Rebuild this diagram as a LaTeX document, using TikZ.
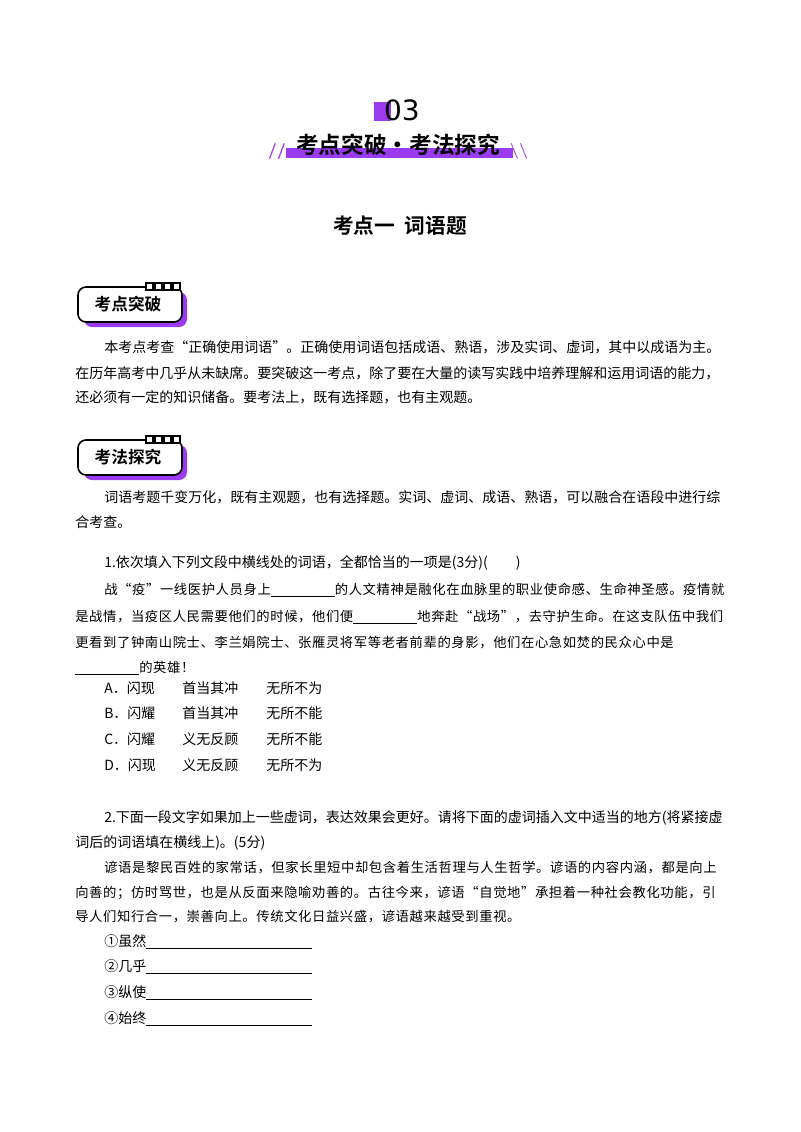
\documentclass[tikz,border=0pt]{standalone}
\usepackage{fontspec}
\setmainfont{Liberation Serif}
\newfontfamily\cjk{Noto Sans CJK SC}
\newfontfamily\cjks[LetterSpace=4.5]{Noto Sans CJK SC}
\newfontfamily\cjkb{Noto Sans CJK SC Bold}
\newfontfamily\numf{DejaVu Sans}
\definecolor{pur}{HTML}{9B3BF0}
\begin{document}
\begin{tikzpicture}[x=0.75pt,y=-0.75pt,
  txt/.style={anchor=west,inner sep=0pt,font=\cjk\fontsize{10.5}{12}\selectfont},
  pas/.style={anchor=west,inner sep=0pt,font=\cjks\fontsize{10}{12}\selectfont},
  badge/.style={draw=black,line width=1.2pt,fill=white,rounded corners=6pt}]
\useasboundingbox (0,0) rectangle (800,1132);
% header
\fill[pur] (374,102) rectangle (391,121);
\node[inner sep=0pt,font=\numf\fontsize{21}{24}\selectfont] (n03) at (402,110) {03};
\fill[pur] (286,148) rectangle (513,158);
\node[inner sep=0pt,font=\cjkb\fontsize{17}{18}\selectfont] (ban) at (398,145) {考点突破·考法探究};
\node[inner sep=0pt,text=pur,font=\sffamily\bfseries\fontsize{12}{12}\selectfont] (sl) at (277,151) {//};
\node[inner sep=0pt,text=pur,font=\sffamily\bfseries\fontsize{12}{12}\selectfont] (sr) at (519,151) {\textbackslash\textbackslash};
\node[inner sep=0pt,font=\cjkb\fontsize{15.5}{16}\selectfont] (tit) at (400,226) {考点一\ \ 词语题};
% badges
\foreach \yy/\lab in {287/考点突破,440/考法探究}{
  \fill[pur,rounded corners=6pt] (84,\yy+5) rectangle (187,\yy+40);
  \draw[badge] (78,\yy) rectangle (182,\yy+35);
  \draw[line width=1.3pt] (140,\yy) -- (180,\yy);
  \foreach \k in {0,1,2,3}{\draw[line width=1.3pt,fill=white] (146+\k*9,\yy-4) rectangle (153+\k*9,\yy+3);}
  \node[inner sep=0pt,font=\cjkb\fontsize{12.5}{13}\selectfont] at (128,\yy+17) {\lab};
}
% paragraph 1
\node[txt] (p1) at (104,347) {本考点考查“正确使用词语”。正确使用词语包括成语、熟语，涉及实词、虚词，其中以成语为主。};
\node[txt] (p2) at (75,373) {在历年高考中几乎从未缺席。要突破这一考点，除了要在大量的读写实践中培养理解和运用词语的能力，};
\node[txt] (p3) at (75,397) {还必须有一定的知识储备。要考法上，既有选择题，也有主观题。};
% paragraph 2
\node[txt] (q0) at (104,497) {词语考题千变万化，既有主观题，也有选择题。实词、虚词、成语、熟语，可以融合在语段中进行综};
\node[txt] (q0b) at (75,522) {合考查。};
% Q1
\node[txt] (a1) at (104,563) {1.依次填入下列文段中横线处的词语，全都恰当的一项是(3分)(\qquad)};
\node[pas] (a2) at (104,590) {战“疫”一线医护人员身上\underline{\hspace{48pt}}的人文精神是融化在血脉里的职业使命感、生命神圣感。疫情就};
\node[pas] (a3) at (75,617) {是战情，当疫区人民需要他们的时候，他们便\underline{\hspace{48pt}}地奔赴“战场”，去守护生命。在这支队伍中我们};
\node[pas] (a4) at (75,643) {更看到了钟南山院士、李兰娟院士、张雁灵将军等老者前辈的身影，他们在心急如焚的民众心中是};
\node[pas] (a5) at (75,668) {\underline{\hspace{48pt}}的英雄！};
\foreach \yy/\l/\a/\b/\c in {688/A/闪现/首当其冲/无所不为,713/B/闪耀/首当其冲/无所不能,739/C/闪耀/义无反顾/无所不能,765/D/闪现/义无反顾/无所不为}{
  \node[txt] at (104,\yy) {\l．\a};
  \node[txt] at (182,\yy) {\b};
  \node[txt] at (266,\yy) {\c};
}
% Q2
\node[txt] (b1) at (104,818) {2.下面一段文字如果加上一些虚词，表达效果会更好。请将下面的虚词插入文中适当的地方(将紧接虚};
\node[txt] (b2) at (75,843) {词后的词语填在横线上)。(5分)};
\node[pas] (b3) at (104,868) {谚语是黎民百姓的家常话，但家长里短中却包含着生活哲理与人生哲学。谚语的内容内涵，都是向上};
\node[pas] (b4) at (75,893) {向善的；仿时骂世，也是从反面来隐喻劝善的。古往今来，谚语“自觉地”承担着一种社会教化功能，引};
\node[pas] (b5) at (75,917) {导人们知行合一，崇善向上。传统文化日益兴盛，谚语越来越受到重视。};
\foreach \yy/\w in {942/①虽然,967/②几乎,993/③纵使,1019/④始终}{
  \node[txt] at (104,\yy) {\w\underline{\hspace{124pt}}};
}
\end{tikzpicture}
\end{document}
